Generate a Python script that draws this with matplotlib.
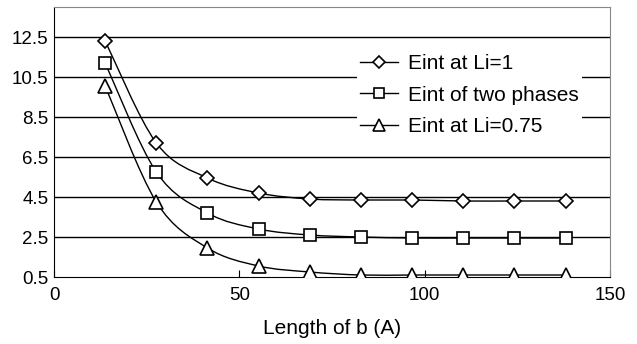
import numpy as np
import matplotlib
matplotlib.use("Agg")
import matplotlib.pyplot as plt
from matplotlib.path import Path
from matplotlib.patches import PathPatch

plt.rcParams['font.family'] = ['Liberation Sans', 'DejaVu Sans']

length_b = [13.8, 27.6, 41.4, 55.2, 69.0, 82.8, 96.6, 110.4, 124.2, 138.0]
eint_li1 = [12.3, 7.2, 5.45, 4.7, 4.4, 4.35, 4.35, 4.3, 4.3, 4.3]
eint_two = [11.2, 5.75, 3.7, 2.9, 2.6, 2.5, 2.45, 2.45, 2.45, 2.45]
eint_li075 = [10.05, 4.25, 1.95, 1.05, 0.75, 0.6, 0.6, 0.6, 0.6, 0.6]
labels = ["Eint at Li=1", "Eint of two phases", "Eint at Li=0.75"]
markers = ["D", "s", "^"]
msizes = [7.5, 9, 10]
leg_msizes = [6.5, 7, 8.5]
x_ticks = [0, 50, 100, 150]
y_ticks = [0.5, 2.5, 4.5, 6.5, 8.5, 10.5, 12.5]


def smooth_path(x, y, t=1/6):
    x = np.asarray(x, float); y = np.asarray(y, float)
    verts = [(x[0], y[0])]
    codes = [Path.MOVETO]
    n = len(x)
    for i in range(n - 1):
        x0, y0 = (x[i-1], y[i-1]) if i > 0 else (x[i], y[i])
        x3, y3 = (x[i+2], y[i+2]) if i + 2 < n else (x[i+1], y[i+1])
        c1 = (x[i] + (x[i+1] - x0) * t, y[i] + (y[i+1] - y0) * t)
        c2 = (x[i+1] - (x3 - x[i]) * t, y[i+1] - (y3 - y[i]) * t)
        verts += [c1, c2, (x[i+1], y[i+1])]
        codes += [Path.CURVE4] * 3
    return Path(verts, codes)


fig = plt.figure(figsize=(6.37, 3.44), dpi=100)
ax = fig.add_axes([54/637, 1 - 277/344, (610-54)/637, (277-7)/344])
ax.set_xlim(0, 150)
ax.set_ylim(0.5, 14.0)
for yt in y_ticks[1:]:
    ax.axhline(yt, color='black', lw=1.0, zorder=1)

series = [eint_li1, eint_two, eint_li075]
handles = []
for ys, m, ms, lms, lab in zip(series, markers, msizes, leg_msizes, labels):
    ax.add_patch(PathPatch(smooth_path(length_b, ys), fc='none', ec='black', lw=1.0, zorder=2))
    ax.plot(length_b, ys, ls='none', marker=m, ms=ms, mfc='white', mec='black',
            mew=1.2, zorder=3)
    handles.append(ax.plot([], [], color='black', lw=1.0, marker=m, ms=lms, mfc='white',
                           mec='black', mew=1.2, label=lab)[0])

ax.set_xticks(x_ticks)
ax.set_xticklabels([str(v) for v in x_ticks], fontsize=13.5)
ax.set_yticks(y_ticks)
ax.set_yticklabels([f"{v}" for v in y_ticks], fontsize=13.5)
ax.tick_params(axis='x', direction='in', length=5, pad=7)
ax.tick_params(axis='y', length=0, pad=4)
for s in ['top', 'right']:
    ax.spines[s].set_color('#888888')
for s in ['left', 'bottom']:
    ax.spines[s].set_color('black')
ax.set_xlabel("Length of b (A)", fontsize=15, labelpad=11)

leg = ax.legend(handles=handles, loc='upper left', bbox_to_anchor=(357/637, 1 - 51/344),
                bbox_transform=fig.transFigure, frameon=True, fontsize=15,
                handlelength=1.8, handletextpad=0.5, labelspacing=0.6, borderpad=0.15,
                borderaxespad=0, fancybox=False)
leg.get_frame().set_edgecolor('none')
leg.get_frame().set_facecolor('white')
leg.get_frame().set_alpha(1)

fig.savefig("out.png", dpi=100)
